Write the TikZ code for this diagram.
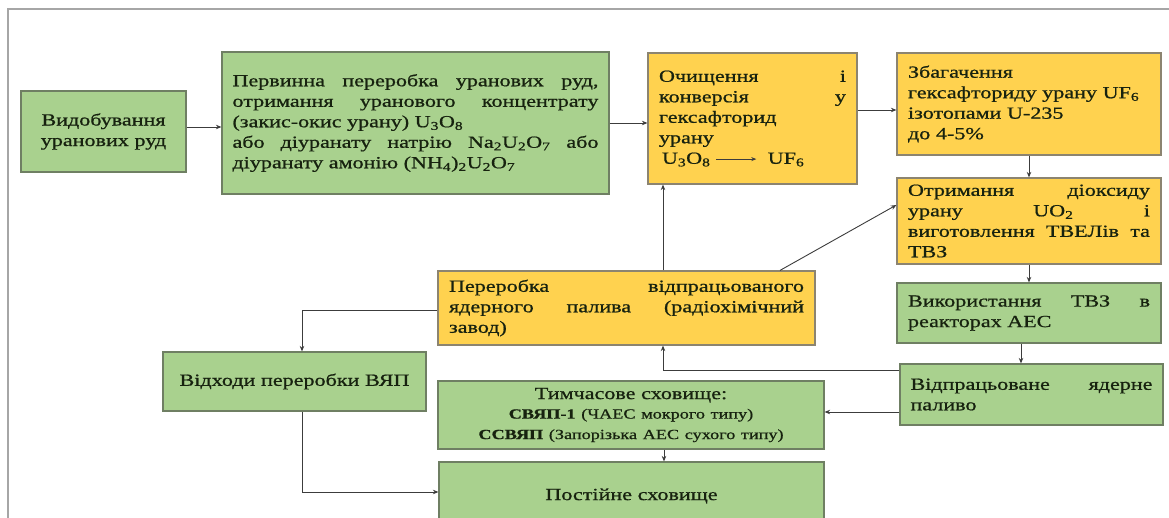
\documentclass[tikz,border=0pt]{standalone}
\usepackage{fontspec}
\setmainfont{Liberation Serif}[FakeStretch=1.3,FakeBold=0.8]
\usetikzlibrary{arrows.meta}
\definecolor{gfill}{HTML}{A9D18E}
\definecolor{yfill}{HTML}{FFD24F}
\definecolor{gline}{HTML}{6F7F63}
\definecolor{yline}{HTML}{8C8470}
\definecolor{conn}{HTML}{3C3C3C}
\definecolor{txt}{HTML}{17220F}
\definecolor{frame}{HTML}{A6A6A6}
\begin{document}
\begin{tikzpicture}[x=1pt,y=-1pt,
  box/.style={draw, line width=1.2pt, inner sep=0pt, text=txt, font=\fontsize{17}{20.5}\selectfont},
  gbox/.style={box, fill=gfill, draw=gline},
  ybox/.style={box, fill=yfill, draw=yline},
  arr/.style={draw=conn, line width=0.9pt, -{Stealth[length=5.5pt,width=4.5pt]}},
  ln/.style={draw=conn, line width=0.9pt}
]
\useasboundingbox (0,0) rectangle (1169,517);
\clip (0,0) rectangle (1169,517);
\draw[draw=frame, line width=1.5pt] (8,540) -- (8,9) -- (1190,9);

\node[gbox, minimum width=165pt, minimum height=81pt, text width=150pt, align=center] (b1) at (103.5,131.5)
  {Видобування\\уранових руд};
\node[gbox, minimum width=387pt, minimum height=142pt, text width=366pt, align=justify] (b2) at (415.5,123)
  {Первинна переробка уранових руд,\linebreak отримання уранового концентрату\linebreak (закис-окис урану) U\textsubscript{3}O\textsubscript{8}\\ або діуранату натрію Na\textsubscript{2}U\textsubscript{2}O\textsubscript{7} або\linebreak діуранату амонію (NH\textsubscript{4})\textsubscript{2}U\textsubscript{2}O\textsubscript{7}};
\node[ybox, minimum width=209pt, minimum height=131pt, text width=187pt, align=justify] (b3) at (752.5,118.5)
  {Очищення і\linebreak конверсія у\linebreak гексафторид\\ урану\\ \hspace*{3pt}U\textsubscript{3}O\textsubscript{8} \tikz[baseline=-0.6ex]\draw[draw=conn, line width=0.8pt, -{Stealth[length=5pt,width=4pt]}] (0pt,0pt) -- (40pt,0pt);\ \ UF\textsubscript{6}};
\node[ybox, minimum width=264pt, minimum height=102pt, text width=242pt, align=left] (b4) at (1029,104)
  {Збагачення\\ гексафториду урану UF\textsubscript{6}\\ ізотопами U-235\\ до 4-5\%};
\node[ybox, minimum width=264pt, minimum height=86pt, text width=242pt, align=justify] (b5) at (1029,221)
  {Отримання діоксиду\linebreak урану UO\textsubscript{2} і\linebreak виготовлення ТВЕЛів та\linebreak ТВЗ};
\node[gbox, minimum width=264pt, minimum height=60pt, text width=242pt, align=justify] (b6) at (1029,313)
  {Використання ТВЗ в\linebreak реакторах АЕС};
\node[gbox, minimum width=263pt, minimum height=61pt, text width=242pt, align=justify] (b7) at (1031.5,394.5)
  {Відпрацьоване ядерне\linebreak паливо};
\node[ybox, minimum width=377pt, minimum height=74pt, text width=355pt, align=justify] (pr) at (626.5,308)
  {Переробка відпрацьованого\linebreak ядерного палива (радіохімічний\linebreak завод)};
\node[gbox, minimum width=263pt, minimum height=59pt, text width=250pt, align=center] (vk) at (294.5,381.5)
  {Відходи переробки ВЯП};
\node[gbox, minimum width=386pt, minimum height=68pt, text width=370pt, align=center] (ts) at (631,415)
  {Тимчасове сховище:\\ \fontsize{14}{19.5}\selectfont\textbf{СВЯП-1} (ЧАЕС мокрого типу)\\ \textbf{ССВЯП} (Запорізька АЕС сухого типу)};
\node[gbox, minimum width=385pt, minimum height=68pt, text width=370pt, align=center] (ps) at (631.5,496)
  {Постійне сховище};

% connectors
\draw[arr] ([yshift=4.5pt]b1.east) -- ([yshift=4.5pt]b1.east -| b2.west);
\draw[arr] (b2.east) -- (b2.east -| b3.west);
\draw[arr] ([yshift=8.5pt]b3.east) -- ([yshift=8.5pt]b3.east -| b4.west);
\draw[arr] (b4.south) -- (b5.north);
\draw[arr] (b5.south) -- (b6.south |- b6.north);
\draw[arr] ([xshift=-8pt]b6.south) -- ([xshift=-8pt]b6.south |- b7.north);
\draw[arr] ([yshift=-17.5pt]b7.west) -- ([yshift=-17.5pt]b7.west -| ts.east);
\draw[arr] ([yshift=24.5pt]b7.west) -| ([xshift=36.5pt]pr.south);
\draw[arr] ([xshift=36.5pt]pr.north) -- ([xshift=36.5pt]pr.north |- b3.south);
\draw[arr] ([xshift=153.5pt]pr.north) -- ([yshift=16pt]b5.west);
\draw[arr] ([yshift=-2pt]pr.west) -| ([xshift=7.5pt]vk.north);
\draw[arr] ([xshift=7.5pt]vk.south) |- ([yshift=4pt]ps.west);
\draw[arr] ([xshift=33pt]ts.south) -- ([xshift=33pt]ts.south |- ps.north);
\end{tikzpicture}
\end{document}
